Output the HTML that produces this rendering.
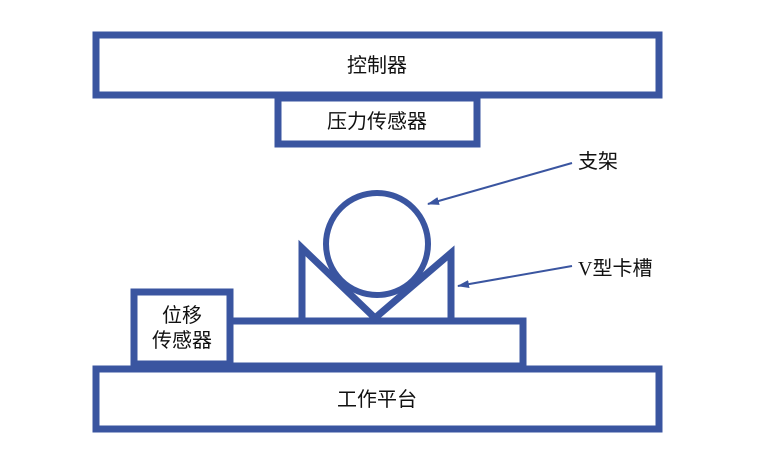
<!DOCTYPE html>
<html><head><meta charset="utf-8"><style>
html,body{margin:0;padding:0;background:#fff;width:767px;height:471px;overflow:hidden}
</style></head><body>
<svg width="767" height="471" xmlns="http://www.w3.org/2000/svg" font-family="Liberation Sans, Noto Sans CJK SC, sans-serif">
<defs><marker id="a" markerWidth="12" markerHeight="8" refX="11" refY="4" orient="auto" markerUnits="userSpaceOnUse"><path d="M0,0 L12,4 L0,8 Z" fill="#3a55a0"/></marker></defs>
<g fill="none" stroke="#3a55a0" stroke-width="7">
<rect x="96" y="35" width="563" height="60"/>
<rect x="278" y="98" width="199" height="46"/>
<rect x="134" y="292" width="96" height="72"/>
<rect x="230" y="321" width="293" height="45"/>
<rect x="96" y="369" width="563" height="60"/>
<path d="M302,318 V248 L375,318 L451,253 V318"/>
<circle cx="377" cy="244" r="51" stroke-width="6"/>
</g>
<g stroke="#3a55a0" stroke-width="2">
<line x1="572" y1="163" x2="428" y2="204" marker-end="url(#a)"/>
<line x1="572" y1="266" x2="458" y2="286" marker-end="url(#a)"/>
</g>
<g font-size="20" fill="#111" text-anchor="middle">
<text x="377" y="72">控制器</text>
<text x="377" y="128">压力传感器</text>
<text x="182" y="322">位移</text>
<text x="182" y="347">传感器</text>
<text x="377" y="406">工作平台</text>
</g>
<g font-size="20" fill="#111">
<text x="578" y="168">支架</text>
<text x="578" y="275" font-family="Liberation Serif, Noto Sans CJK SC, serif">V型卡槽</text>
</g>
</svg>
</body></html>
